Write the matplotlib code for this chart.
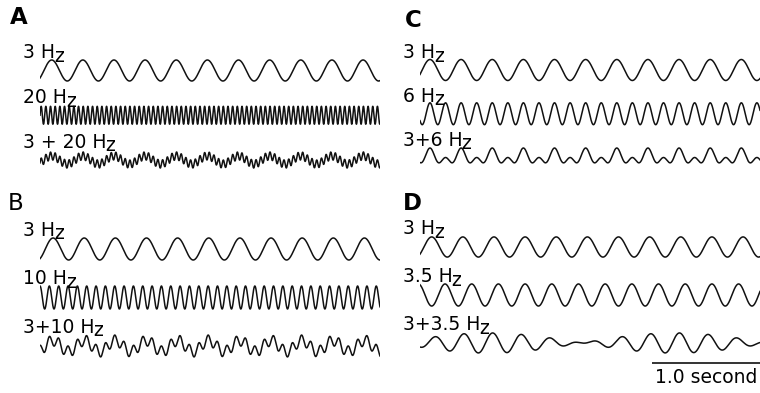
import matplotlib
matplotlib.use("Agg")
import matplotlib.pyplot as plt
import numpy as np

plt.rcParams['font.family'] = 'DejaVu Sans'

# ---- data ----
panel_letters = ['A', 'B', 'C', 'D']
letter_bold = [True, False, True, True]

# component frequencies (Hz) for each panel
freqs_a = [3.0, 20.0]
freqs_b = [3.0, 10.0]
freqs_c = [3.0, 6.0]
freqs_d = [3.0, 3.5]

# starting phases (rad) of the two single-frequency traces
phases_a = [-0.79, 0.0]
phases_b = [-1.07, 1.57]
phases_c = [-0.44, -2.46]
phases_d = [-0.79, 1.96]

# phases used in the summed trace
sum_phases_a = [-0.79, 0.0]
sum_phases_b = [-1.07, 1.57]
sum_phases_c = [-0.44, -2.46]
sum_phases_d = [-0.6, -2.9]

# trace amplitudes (in row units): single, single, sum
amps_a = [0.235, 0.20, 0.18]
amps_b = [0.227, 0.237, 0.227]
amps_c = [0.24, 0.25, 0.217]
amps_d = [0.21, 0.23, 0.21]

labels_a = ['3 Hz', '20 Hz', '3 + 20 Hz']
labels_b = ['3 Hz', '10 Hz', '3+10 Hz']
labels_c = ['3 Hz', '6 Hz', '3+6 Hz']
labels_d = ['3 Hz', '3.5 Hz', '3+3.5 Hz']

duration = 3.64          # seconds shown in each trace
scalebar_len = 1.16      # drawn length of the scale bar
scalebar_label = '1.0 second'

# ---- layout (pixels) ----
W, H = 760, 393
FS = 13.5
# (left px, first row centre px, row spacing px)
panel_geom = [(40, 70.5, 44.75), (40, 249, 48.5), (420, 70, 43.75), (420, 247, 48)]
letter_pos = [(10, 6), (8, 192), (405, 9), (403, 192)]
trace_w = 340

fig = plt.figure(figsize=(W / 100, H / 100), dpi=100)

t = np.linspace(0, duration, 6000)


def hz_label(ax, x, y, s):
    # the "z" of "Hz" sits a little below the baseline in the original
    head = ax.text(x, y, s[:-1], fontsize=FS, ha='left', va='baseline', clip_on=False)
    ax.annotate(s[-1], xy=(1, 0), xycoords=head, xytext=(-0.8, -2.5),
                textcoords='offset points', fontsize=FS, ha='left', va='bottom')


panels = [
    (freqs_a, phases_a, sum_phases_a, amps_a, labels_a),
    (freqs_b, phases_b, sum_phases_b, amps_b, labels_b),
    (freqs_c, phases_c, sum_phases_c, amps_c, labels_c),
    (freqs_d, phases_d, sum_phases_d, amps_d, labels_d),
]

axes = []
for i, (freqs, phs, sphs, amps, labels) in enumerate(panels):
    left, c0, sp = panel_geom[i]
    top = c0 - 0.5 * sp
    h = 3 * sp
    ax = fig.add_axes([left / W, 1 - (top + h) / H, trace_w / W, h / H])
    ax.set_xlim(0, duration)
    ax.set_ylim(2.5, -0.5)
    ax.axis('off')
    axes.append(ax)

    for row in range(2):
        y = amps[row] * np.sin(2 * np.pi * freqs[row] * t + phs[row])
        ax.plot(t, row - y, color='#111111', lw=1.1)
    s = (np.sin(2 * np.pi * freqs[0] * t + sphs[0]) +
         np.sin(2 * np.pi * freqs[1] * t + sphs[1])) / 2
    ax.plot(t, 2 - amps[2] * s, color='#111111', lw=1.1)

    lab_x = -17 / 93.4
    for row in range(3):
        hz_label(ax, lab_x, row - 0.27, labels[row])

    lx, ly = letter_pos[i]
    fig.text(lx / W, 1 - ly / H, panel_letters[i], fontsize=16.5,
             fontweight='bold' if letter_bold[i] else 'normal', ha='left', va='top')

# scale bar in panel D
axd = axes[3]
axd.plot([duration - scalebar_len, duration], [2.42, 2.42], color='#111111', lw=1.2,
         clip_on=False, solid_capstyle='butt')
axd.text(duration - scalebar_len / 2, 2.84, scalebar_label, fontsize=FS,
         ha='center', va='baseline', clip_on=False)

fig.savefig('out.png', dpi=100)
